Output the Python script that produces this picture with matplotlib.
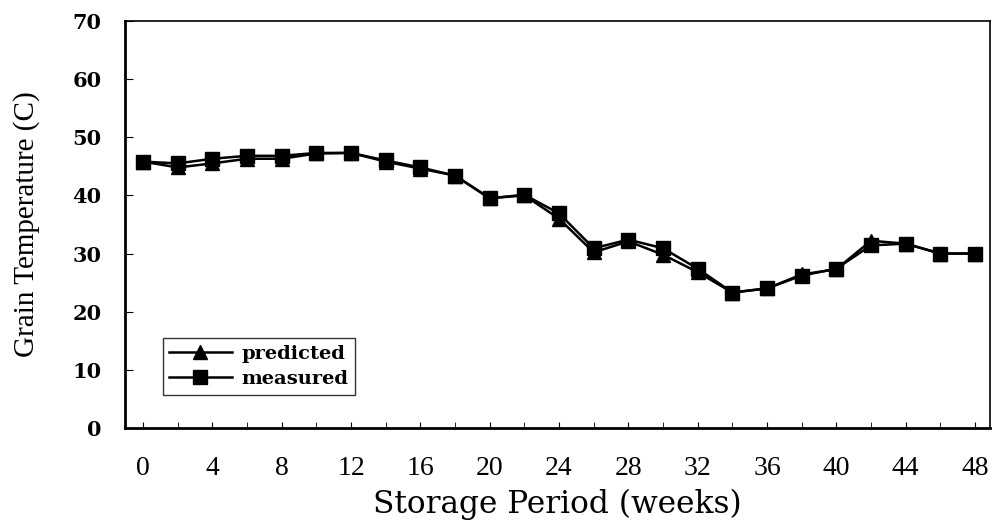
import matplotlib
matplotlib.use("Agg")
import matplotlib.pyplot as plt

weeks = list(range(0, 50, 2))
predicted = [45.8, 44.8, 45.5, 46.3, 46.3, 47.2, 47.3, 45.8, 44.6, 43.4, 39.5, 40.0,
             36.0, 30.2, 32.1, 29.8, 26.8, 23.3, 24.0, 26.4, 27.3, 32.2, 31.7, 30.0, 30.0]
measured = [45.8, 45.5, 46.3, 46.8, 46.8, 47.3, 47.3, 46.0, 44.8, 43.4, 39.5, 40.1,
            36.9, 30.9, 32.4, 30.9, 27.4, 23.3, 24.0, 26.2, 27.4, 31.4, 31.7, 30.0, 30.0]
xticks = list(range(0, 49, 4))
yticks = list(range(0, 71, 10))

fig = plt.figure(figsize=(9.93, 5.22), dpi=100)
ax = fig.add_axes([0.126, 0.180, 0.871, 0.780])

ax.plot(weeks, predicted, color="black", lw=1.8, marker="^", markersize=10, label="predicted", zorder=3)
ax.plot(weeks, measured, color="black", lw=1.8, marker="s", markersize=10, label="measured", zorder=4)

ax.set_xlim(-1.04, 48.87)
ax.set_ylim(0, 70)
ax.set_xticks(xticks)
ax.set_xticks(list(range(0, 49, 2)), minor=True)
ax.set_yticks(yticks)
ax.set_xticklabels([str(t) for t in xticks], family="Liberation Serif", fontsize=20)
ax.set_yticklabels([str(t) for t in yticks], family="DejaVu Serif", fontsize=15, fontweight="bold")
ax.tick_params(axis="x", which="both", direction="in", length=4, pad=20, top=False)
ax.tick_params(axis="y", which="both", direction="in", length=6, pad=17, right=False)
for s in ax.spines.values():
    s.set_linewidth(1.2)
ax.spines["left"].set_linewidth(2.0)
ax.spines["bottom"].set_linewidth(2.0)

ax.set_xlabel("Storage Period (weeks)", family="DejaVu Serif", fontsize=22.5, labelpad=6)
ax.set_ylabel("Grain Temperature (C)", family="Liberation Serif", fontsize=21, labelpad=23)

leg = ax.legend(loc="lower left", bbox_to_anchor=(0.032, 0.058), frameon=True, fancybox=False,
                edgecolor="black", handlelength=3.2, borderpad=0.35, labelspacing=0.35,
                handletextpad=0.5,
                prop={"family": "DejaVu Serif", "size": 14, "weight": "bold"})
leg.get_frame().set_linewidth(1.0)

fig.savefig("out.png", dpi=100)
